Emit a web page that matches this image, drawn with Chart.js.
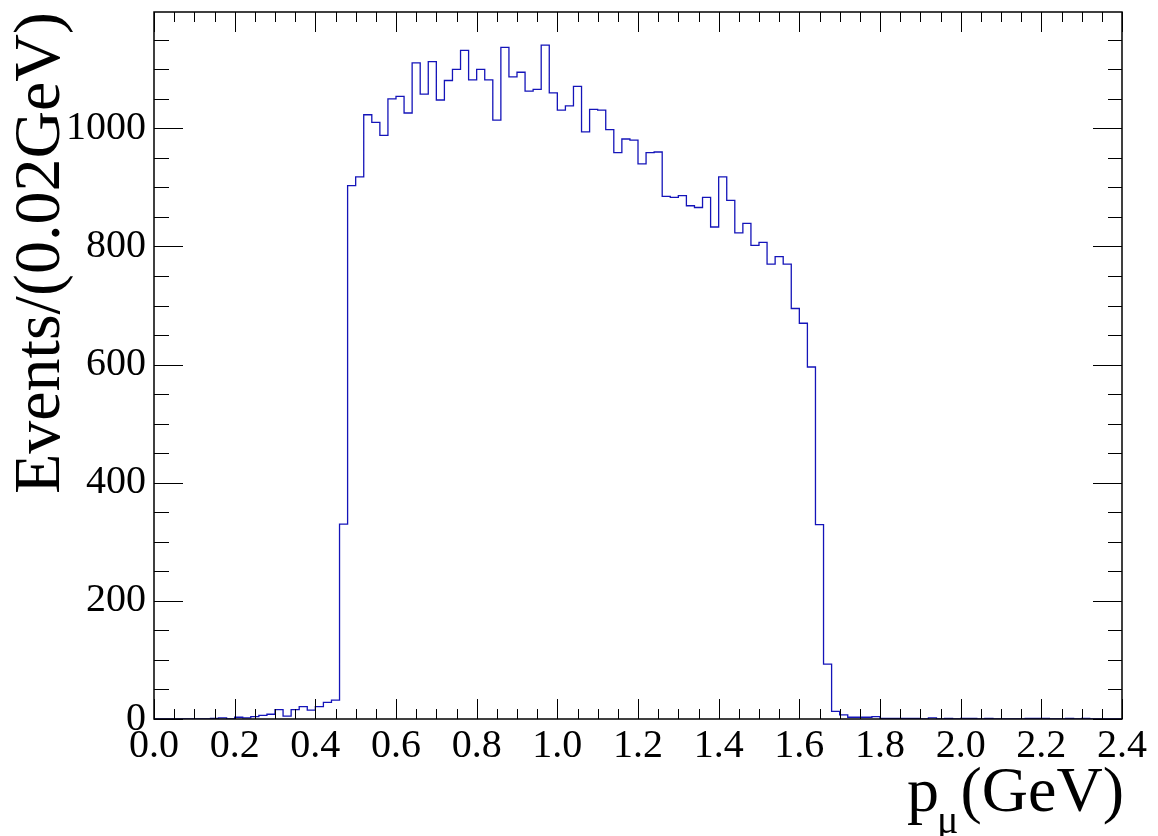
<!DOCTYPE html>
<html>
<head>
<meta charset="utf-8">
<script src="https://cdn.jsdelivr.net/npm/chart.js@4.4.0/dist/chart.umd.min.js"></script>
<style>
  html, body { margin: 0; padding: 0; background: #ffffff; }
  #wrap { width: 1158px; height: 836px; }
</style>
</head>
<body>
<div id="wrap"><canvas id="c" width="1158" height="836"></canvas></div>
<script>
// ---- data ----
const binStart = 0.0;      // GeV, lower edge of first bin
const binWidth = 0.02;     // GeV
const counts = [
  0, 0, 0, 0, 0, 0, 0, 1, 2, 0,
  3, 2, 4, 6, 8, 16, 5, 16, 21, 15,
  21, 28, 32, 330, 903, 918, 1023, 1010, 988, 1050,
  1054, 1026, 1111, 1058, 1113, 1048, 1081, 1100, 1132, 1082,
  1100, 1082, 1014, 1137, 1087, 1095, 1063, 1066, 1141, 1060,
  1031, 1038, 1071, 994, 1032, 1031, 998, 959, 982, 980,
  940, 959, 960, 885, 883, 886, 869, 866, 883, 833,
  918, 878, 823, 839, 802, 807, 770, 783, 770, 695,
  670, 596, 329, 93, 13, 7, 3, 3, 3, 4,
  1, 1, 1, 1, 1, 0, 2, 0, 1, 0,
  1, 1, 0, 1, 0, 0, 0, 0, 1, 1,
  1, 0, 0, 1, 0, 1, 0, 0, 0, 0
];
const xTickValues = [0.0, 0.2, 0.4, 0.6, 0.8, 1.0, 1.2, 1.4, 1.6, 1.8, 2.0, 2.2, 2.4];
const xTickLabels = ['0.0', '0.2', '0.4', '0.6', '0.8', '1.0', '1.2', '1.4', '1.6', '1.8', '2.0', '2.2', '2.4'];
const yTickValues = [0, 200, 400, 600, 800, 1000];
const yTickLabels = ['0', '200', '400', '600', '800', '1000'];
const xMin = 0.0, xMax = 2.4;
const yMin = 0, yMax = 1197;
const yTitle = 'Events/(0.02GeV)';
const xTitleMain = 'p';
const xTitleSub = 'μ';
const xTitleUnit = '(GeV)';

// histogram outline points: lower edges + closing upper edge
const points = counts.map((c, i) => ({ x: binStart + i * binWidth, y: c }));
points.push({ x: binStart + counts.length * binWidth, y: counts[counts.length - 1] });

const SERIF = "'Liberation Serif', 'DejaVu Serif', serif";

function labelFor(values, labels, v) {
  const i = values.findIndex(t => Math.abs(t - v) < 1e-6);
  return i >= 0 ? labels[i] : '';
}

// ROOT-like frame, inward ticks on all four sides and the x-axis title
const rootFrame = {
  id: 'rootFrame',
  afterDraw(chart) {
    const { ctx, chartArea, scales } = chart;
    const { left, right, top, bottom } = chartArea;
    const xs = scales.x, ys = scales.y;
    ctx.save();
    ctx.strokeStyle = '#000';
    ctx.lineWidth = 1;
    ctx.beginPath();
    // x ticks: major every 0.2, minor every 0.05
    const xMinorStep = 0.05;
    const nx = Math.round((xMax - xMin) / xMinorStep);
    for (let k = 0; k <= nx; k++) {
      const v = xMin + k * xMinorStep;
      const px = Math.round(xs.getPixelForValue(v)) + 0.5;
      const major = k % 4 === 0;
      const L = major ? 20 : 10;
      ctx.moveTo(px, bottom); ctx.lineTo(px, bottom - L);
      ctx.moveTo(px, top); ctx.lineTo(px, top + L);
    }
    // y ticks: major every 200, minor every 50
    const yMinorStep = 50;
    for (let v = yMin; v <= yMax; v += yMinorStep) {
      const py = Math.round(ys.getPixelForValue(v)) + 0.5;
      const major = v % 200 === 0;
      ctx.moveTo(left, py); ctx.lineTo(left + (major ? 29 : 15), py);
      ctx.moveTo(right, py); ctx.lineTo(right - (major ? 29 : 14), py);
    }
    ctx.stroke();
    // frame
    ctx.lineWidth = 1.5;
    ctx.strokeRect(left, top, right - left, bottom - top);

    // x-axis title: p_mu(GeV), right aligned at the frame end
    ctx.fillStyle = '#000';
    ctx.textBaseline = 'alphabetic';
    const bigFont = '64px ' + SERIF;
    const subFont = '40px ' + SERIF;
    const baseY = 811;
    const endX = right + 2;
    ctx.font = bigFont;
    const unitW = ctx.measureText(xTitleUnit).width;
    const pW = ctx.measureText(xTitleMain).width;
    ctx.font = subFont;
    const subW = ctx.measureText(xTitleSub).width;
    const unitX = endX - unitW;
    const subX = unitX - subW - 2;
    const pX = subX - pW + 2;
    ctx.font = bigFont;
    ctx.textAlign = 'left';
    ctx.fillText(xTitleUnit, unitX, baseY);
    ctx.fillText(xTitleMain, pX, baseY);
    ctx.font = subFont;
    ctx.fillText(xTitleSub, subX, baseY + 22);
    ctx.restore();
  }
};

new Chart(document.getElementById('c').getContext('2d'), {
  type: 'line',
  data: {
    datasets: [{
      data: points,
      stepped: 'before',
      borderColor: 'rgb(20, 20, 185)',
      borderWidth: 1.3,
      pointRadius: 0,
      fill: false,
      tension: 0
    }]
  },
  options: {
    responsive: false,
    devicePixelRatio: 1,
    animation: false,
    layout: { padding: { left: 0, top: 12, right: 36, bottom: 0 } },
    plugins: { legend: { display: false }, tooltip: { enabled: false } },
    scales: {
      x: {
        type: 'linear',
        min: xMin,
        max: xMax,
        grid: { display: false, drawTicks: false },
        border: { display: false },
        ticks: {
          stepSize: 0.2,
          autoSkip: false,
          maxRotation: 0,
          minRotation: 0,
          padding: 3,
          color: '#000',
          font: { family: SERIF, size: 40 },
          callback: (v) => labelFor(xTickValues, xTickLabels, v)
        },
        afterFit(s) { s.height = 117; s.paddingLeft = 0; s.paddingRight = 0; }
      },
      y: {
        type: 'linear',
        min: yMin,
        max: yMax,
        grid: { display: false, drawTicks: false },
        border: { display: false },
        ticks: {
          stepSize: 200,
          autoSkip: false,
          padding: 8,
          color: '#000',
          font: { family: SERIF, size: 40 },
          callback: (v) => labelFor(yTickValues, yTickLabels, v)
        },
        afterBuildTicks(s) {
          s.ticks = yTickValues.map(v => ({ value: v }));
        },
        afterFit(s) { s.width = 154; s.paddingTop = 0; s.paddingBottom = 0; },
        title: {
          display: true,
          text: yTitle,
          align: 'end',
          color: '#000',
          padding: { top: 2, bottom: 0 },
          font: { family: SERIF, size: 66, lineHeight: 1.2 }
        }
      }
    }
  },
  plugins: [rootFrame]
});
</script>
</body>
</html>
